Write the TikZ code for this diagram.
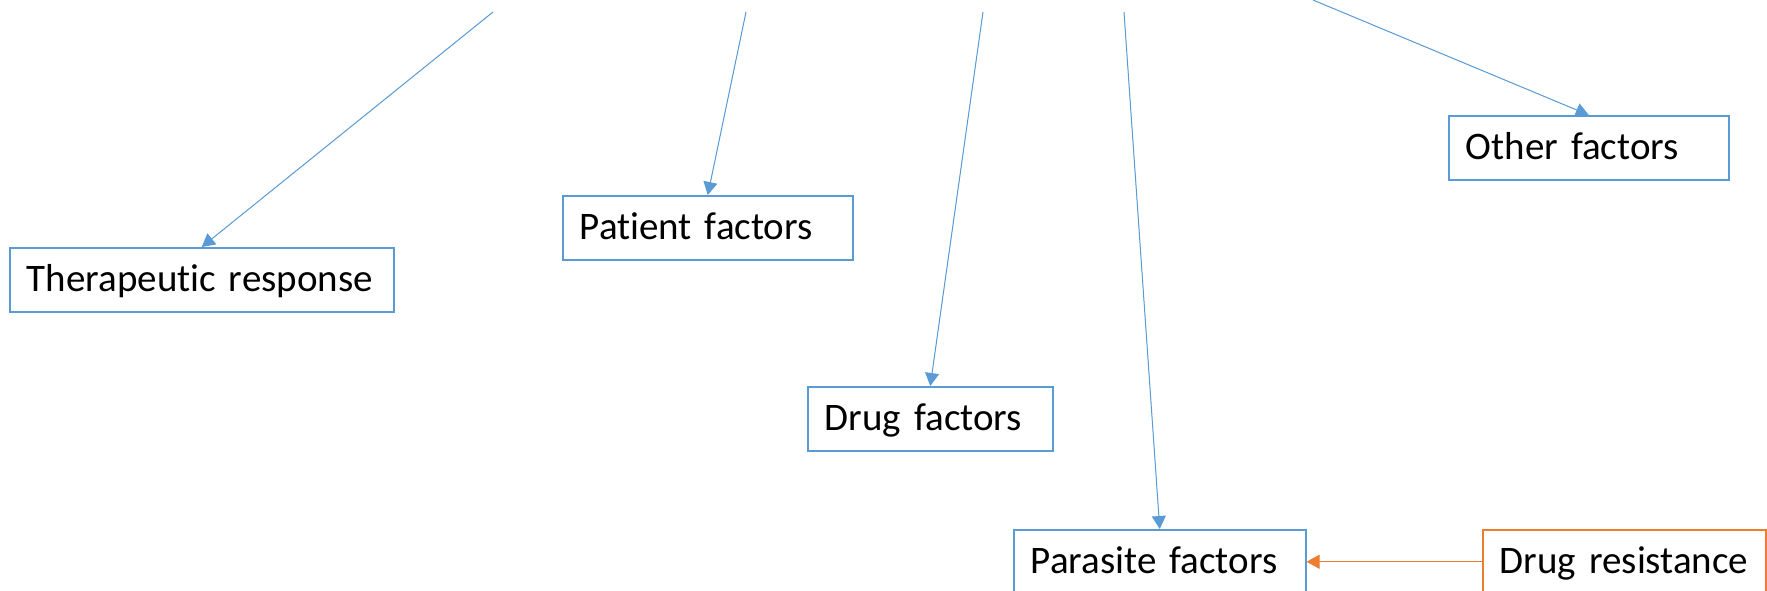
\documentclass[tikz,border=0pt]{standalone}
\usepackage{fontspec}
\setmainfont{Carlito}[Ligatures=NoCommon, WordSpace=0.9]
\usetikzlibrary{arrows.meta}
\definecolor{boxblue}{HTML}{5B9BD5}
\definecolor{boxorange}{HTML}{ED7D31}
\tikzset{
  fbox/.style={draw=boxblue, line width=1.5pt, rectangle, anchor=north west,
    inner xsep=17pt, inner ysep=0pt, minimum height=64pt, align=left,
    text height=29pt, text depth=5pt, font=\fontsize{39}{44}\selectfont, text=black},
  obox/.style={fbox, draw=boxorange},
  conn/.style={draw=boxblue, fill=boxblue, line width=1pt, -{Triangle[width=14pt,length=13pt]}},
  oconn/.style={conn, draw=boxorange, fill=boxorange}
}
\begin{document}
\begin{tikzpicture}[x=1pt,y=-1pt]
\useasboundingbox (0,0) rectangle (1767,590);
\node[fbox, text width=350pt] (tr) at (9,247) {Therapeutic response};
\node[fbox, text width=256pt] (pa) at (562,195) {Patient factors};
\node[fbox, text width=211pt] (dr) at (807,386) {Drug factors};
\node[fbox, text width=246pt] (ot) at (1448,115) {Other factors};
\node[fbox, text width=258pt] (pf) at (1013,529) {Parasite factors};
\node[obox, text width=249pt] (res) at (1482,529) {Drug resistance};
\coordinate (s1) at (493,12);
\coordinate (s2) at (746,12);
\coordinate (s3) at (983,12);
\coordinate (s4) at (1124,12);
\coordinate (s5) at (1313,0);
\draw[conn] (s1) -- (tr.north);
\draw[conn] (s2) -- (pa.north);
\draw[conn] (s3) -- (dr.north);
\draw[conn] (s4) -- (pf.north);
\draw[conn] (s5) -- (ot.north);
\draw[oconn] (res.west) -- (pf.east);
\end{tikzpicture}
\end{document}
